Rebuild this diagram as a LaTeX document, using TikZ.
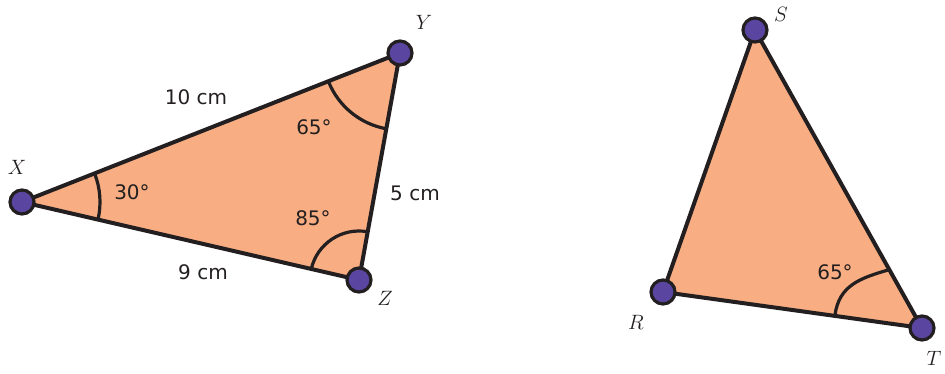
\documentclass[tikz,border=0pt]{standalone}
\usepackage{fontspec}
\newfontfamily\labelfont{DejaVu Sans}
\definecolor{linecol}{RGB}{35,31,32}
\definecolor{tri}{RGB}{248,174,130}
\definecolor{vpurple}{RGB}{90,70,160}
\begin{document}
\begin{tikzpicture}[x=1pt,y=-1pt,
  edge/.style={line width=4pt, draw=linecol, line join=round},
  anglearc/.style={line width=3.2pt, draw=linecol},
  vert/.style={circle, fill=vpurple, draw=linecol, line width=3.2pt, minimum size=24pt, inner sep=0pt},
  lbl/.style={font=\labelfont\fontsize{20}{24}\selectfont, text=linecol, inner sep=0pt},
  vlab/.style={font=\fontsize{22}{26}\selectfont, text=linecol, inner sep=0pt}]
\useasboundingbox (0,0) rectangle (945,373);
% vertex positions
\coordinate (X) at (22,202);
\coordinate (Y) at (400,53);
\coordinate (Z) at (359,280);
\coordinate (S) at (755,30);
\coordinate (R) at (663,292);
\coordinate (T) at (922,328);
% fills
\fill[tri] (X) -- (Y) -- (Z) -- cycle;
\fill[tri] (S) -- (T) -- (R) -- cycle;
% angle arcs
\draw[anglearc] ([shift={(-13:78pt)}]X) arc[start angle=-13, end angle=21.5, radius=78pt];
\draw[anglearc] ([shift={(201.5:77pt)}]Y) arc[start angle=201.5, end angle=259.8, radius=77pt];
\draw[anglearc] ([shift={(79.8:49pt)}]Z) arc[start angle=79.8, end angle=167, radius=49pt];
\coordinate (ta) at (835,315);
\coordinate (tb) at (888,270);
\draw[anglearc] (ta) .. controls (839,285) and (861,278) .. (tb);
% edges
\draw[edge] (X) -- (Y) -- (Z) -- cycle;
\draw[edge] (S) -- (T) -- (R) -- cycle;
% vertices
\node[vert] (vX) at (X) {};
\node[vert] (vY) at (Y) {};
\node[vert] (vZ) at (Z) {};
\node[vert] (vS) at (S) {};
\node[vert] (vR) at (R) {};
\node[vert] (vT) at (T) {};
% vertex labels
\node[vlab] (lX) at (17,167) {$X$};
\node[vlab] (lY) at (424,22) {$Y$};
\node[vlab] (lZ) at (385,298) {$Z$};
\node[vlab] (lS) at (781,14) {$S$};
\node[vlab] (lR) at (636,322) {$R$};
\node[vlab] (lT) at (934,358) {$T$};
% measures
\node[lbl] (m1) at (196,97) {10 cm};
\node[lbl] (m2) at (314,127) {65°};
\node[lbl] (m3) at (132,192) {30°};
\node[lbl] (m4) at (313,218) {85°};
\node[lbl] (m5) at (415,193) {5 cm};
\node[lbl] (m6) at (203,272) {9 cm};
\node[lbl] (m7) at (835,272) {65°};
\end{tikzpicture}
\end{document}
